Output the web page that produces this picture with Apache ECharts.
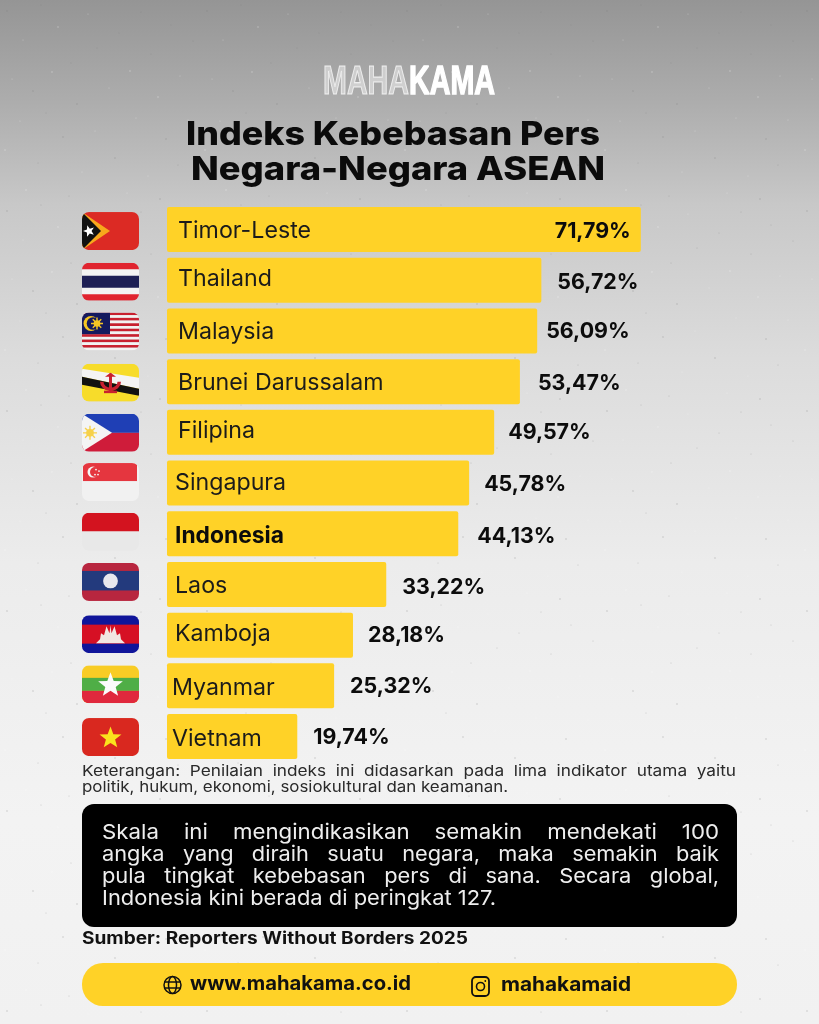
<!DOCTYPE html>
<html><head><meta charset="utf-8">
<script src="https://cdn.jsdelivr.net/npm/echarts@6/dist/echarts.min.js"></script>
<style>html,body{margin:0;padding:0;background:#eee}#c{width:819px;height:1024px}</style>
</head><body><div id="c"></div>
<script>
// ---- data ----
const countries = ['Timor-Leste','Thailand','Malaysia','Brunei Darussalam','Filipina','Singapura','Indonesia','Laos','Kamboja','Myanmar','Vietnam'];
const values = [71.79,56.72,56.09,53.47,49.57,45.78,44.13,33.22,28.18,25.32,19.74];
const flagKeys = ['tl','th','my','bn','ph','sg','id','la','kh','mm','vn'];
const titleLines = ['Indeks Kebebasan Pers','Negara-Negara ASEAN'];
const noteLines = ['Keterangan:  Penilaian  indeks  ini  didasarkan  pada  lima  indikator  utama  yaitu','politik, hukum, ekonomi, sosiokultural dan keamanan.'];
const boxLines = ['Skala    ini    mengindikasikan    semakin    mendekati    100','angka   yang   diraih   suatu   negara,   maka   semakin   baik','pula   tingkat   kebebasan   pers   di   sana.   Secara   global,','Indonesia kini berada di peringkat 127.'];
const sourceText = 'Sumber: Reporters Without Borders 2025';
const footerSite = 'www.mahakama.co.id';
const footerIg = 'mahakamaid';

// ---- layout / style tweaks (not data) ----
const FONT = 'Inter, "Noto Sans", sans-serif';
const LOGO = '"Liberation Sans", sans-serif';
const YELLOW = '#FFD227';
const nameNudgeX = [11,11,11,11,11,8,8,8,8,5,5];
const nameNudgeY = [1,-1,1,1,-1,0,2,2,-1,2,2];
const valueGap = [10,16,9,18,14,15,19,16,15,16,16];
const valueNudgeY = [2,2,1,2,0,2,3,3,0,1,1];
const flagNudge = [1.5,1.5,0.5,1,0.5,-1,-2,-2.5,-1,-1.5,0.5];

function star(cx,cy,r,fill,rot){
  let p='';
  for(let i=0;i<10;i++){
    const a=(rot||0)+(-90+i*36)*Math.PI/180, q=i%2?r*0.42:r;
    p+=(cx+q*Math.cos(a)).toFixed(2)+','+(cy+q*Math.sin(a)).toFixed(2)+' ';
  }
  return `<polygon points="${p}" fill="${fill}"/>`;
}
function sun(cx,cy,r,fill){
  let s=`<circle cx="${cx}" cy="${cy}" r="${r*0.55}" fill="${fill}"/>`;
  for(let i=0;i<8;i++){
    const a=i*45*Math.PI/180;
    s+=`<line x1="${cx}" y1="${cy}" x2="${(cx+r*Math.cos(a)).toFixed(2)}" y2="${(cy+r*Math.sin(a)).toFixed(2)}" stroke="${fill}" stroke-width="1.4"/>`;
  }
  return s;
}
const W=57,H=38;
let myStripes='';
for(let i=0;i<14;i++){ myStripes+=`<rect x="0" y="${(i*H/14).toFixed(2)}" width="${W}" height="${(H/14).toFixed(2)}" fill="${i%2?'#f2f2f2':'#c8202f'}"/>`; }
const flagBodies = {
  tl:`<rect width="57" height="38" fill="#dc2a24"/><polygon points="0,0 28,19 0,38" fill="#f7a81c"/><polygon points="0,0 19,19 0,38" fill="#111"/>`+star(7,19,6,'#fff',-0.3),
  th:`<rect width="57" height="38" fill="#e0242f"/><rect y="6.5" width="57" height="25" fill="#f3f3f3"/><rect y="13" width="57" height="12" fill="#1d1f55"/>`,
  my:myStripes+`<rect width="28" height="21.7" fill="#141a5e"/><circle cx="9" cy="11" r="7.5" fill="#f6c624"/><circle cx="11" cy="11" r="6.3" fill="#141a5e"/>`+sun(15,11,6,'#f6c624'),
  bn:`<rect width="57" height="38" fill="#f7dc2a"/><polygon points="0,5 57,14 57,25 0,13" fill="#f4f4f4"/><polygon points="0,13 57,25 57,32 0,21" fill="#111"/><path d="M18 18 a10.5 9.5 0 0 0 21 0 l-3.5 0 a7 6 0 0 1 -14 0z" fill="#c8202f"/><rect x="27" y="10" width="3" height="18" fill="#c8202f"/><polygon points="23,13 34,13 28.5,9" fill="#c8202f"/><rect x="22" y="27" width="13" height="2.5" fill="#c8202f"/>`,
  ph:`<rect width="57" height="19" fill="#1f3fb5"/><rect y="19" width="57" height="19" fill="#cf1c3a"/><polygon points="0,0 30,19 0,38" fill="#f4f4f4"/>`+sun(8,19,7,'#f6d14a'),
  sg:`<rect width="57" height="38" fill="#f1f1f1"/><rect x="1" y="0" width="54" height="18" fill="#e5363f"/><circle cx="11" cy="9" r="5.5" fill="#f5f5f5"/><circle cx="13" cy="9" r="5" fill="#e5363f"/><circle cx="14" cy="6.5" r=".9" fill="#f5f5f5"/><circle cx="17" cy="8" r=".9" fill="#f5f5f5"/><circle cx="16" cy="11.5" r=".9" fill="#f5f5f5"/><circle cx="13" cy="11.5" r=".9" fill="#f5f5f5"/>`,
  id:`<rect width="57" height="38" fill="#e8e8e8"/><rect width="57" height="18.5" fill="#d3131f"/>`,
  la:`<rect width="57" height="38" fill="#b8263f"/><rect y="8" width="57" height="19.5" fill="#233a7d"/><circle cx="28.5" cy="18" r="7.4" fill="#e8e8ee"/>`,
  kh:`<rect width="57" height="38" fill="#10159a"/><rect y="9.5" width="57" height="19" fill="#d61024"/><polygon points="14,28 43,28 39,24 38,18 35,20 32.5,11 29.5,18 28.5,10 27.5,18 24.5,11 22,20 19,18 18,24" fill="#f1e6e2"/>`,
  mm:`<rect width="57" height="38" fill="#f8cc25"/><rect y="12.5" width="57" height="13" fill="#4fae46"/><rect y="25.5" width="57" height="12.5" fill="#e0283d"/>`+star(28.5,20,13,'#fbfbfb'),
  vn:`<rect width="57" height="38" fill="#d9281f"/>`+star(28.5,20,11.5,'#fbe21d')
};
function flagUri(k){
  const svg=`<svg xmlns="http://www.w3.org/2000/svg" width="228" height="152" viewBox="0 0 57 38"><defs><clipPath id="r"><rect width="57" height="38" rx="7" ry="7"/></clipPath></defs><g clip-path="url(#r)">${flagBodies[k]}</g></svg>`;
  return 'data:image/svg+xml;charset=utf-8,'+encodeURIComponent(svg);
}

// subtle paper speckle tile, decorative only
let dots='';
const sp=[[7,11],[23,40],[41,5],[58,27],[71,63],[12,79],[33,91],[88,14],[97,48],[52,72],[119,33],[109,88],[77,104],[20,121],[46,113],[130,71],[141,12],[95,131],[63,137],[136,118],[151,54],[158,97],[171,25],[180,76],[166,139],[188,120],[193,41],[5,150],[38,163],[82,172],[115,158],[148,176],[178,165],[26,190],[69,196],[127,193],[160,199]];
sp.forEach((d,i)=>{dots+=`<circle cx="${d[0]}" cy="${d[1]}" r="${i%3?0.5:0.7}" fill="${i%2?'#fff':'#7a7a7a'}" opacity="${i%2?0.4:0.4}"/>`;});
const tile='data:image/svg+xml;charset=utf-8,'+encodeURIComponent(`<svg xmlns="http://www.w3.org/2000/svg" width="200" height="200">${dots}</svg>`);

const chart = echarts.init(document.getElementById('c'),null,{renderer:'canvas'});
const fmt = v => v.toFixed(2).replace('.',',')+'%';
const GRID_LEFT=167, PX_PER_UNIT=6.6, AXIS_MAX=90, GRID_TOP=204.2, GRID_H=557.7;

chart.setOption({
  animation:false,
  backgroundColor:'transparent',
  grid:{left:GRID_LEFT,top:GRID_TOP,width:PX_PER_UNIT*AXIS_MAX,height:GRID_H},
  xAxis:{type:'value',min:0,max:AXIS_MAX,show:false},
  yAxis:{type:'category',data:countries,inverse:true,show:false},
  series:[
    {type:'bar',name:'Indeks',z:3,barWidth:45,barGap:'-100%',
     itemStyle:{color:YELLOW,borderRadius:2},
     data:values.map((v,i)=>({value:v,label:{
        show:true,position:'insideLeft',offset:[nameNudgeX[i]-5,nameNudgeY[i]],distance:5,
        formatter:countries[i],color:i===6?'#0c0c0c':'#1b1b1b',fontFamily:FONT,fontSize:i===6?22.8:23.2,
        fontWeight:i===6?700:400}}))},
    {type:'bar',name:'Label',z:4,barWidth:45,barGap:'-100%',
     itemStyle:{color:'transparent'},
     data:values.map((v,i)=>({value:v,label:{
        show:true,position:i===0?'insideRight':'right',distance:valueGap[i],
        formatter:fmt(v),color:'#0c0c0c',fontFamily:FONT,fontSize:21.4,fontWeight:700,offset:[0,valueNudgeY[i]]}}))}
  ]
});

const measureCtx=document.createElement('canvas').getContext('2d');
// text box stretched horizontally to the width it spans in the reference
function fitText(x,y,text,width,o){
  const st=Object.assign({fontFamily:FONT,fontWeight:400,fontSize:14,fill:'#111'},o||{});
  measureCtx.font=`${st.fontWeight} ${st.fontSize}px ${st.fontFamily}`;
  const sx=width/measureCtx.measureText(text).width;
  return {type:'text',x,y,scaleX:sx,z:10,style:Object.assign({text,verticalAlign:'middle',align:'left'},st)};
}
const gradient = new echarts.graphic.LinearGradient(0,0,0,1,[
  {offset:0,color:'#959595'},{offset:.1,color:'#adadad'},{offset:.2,color:'#c8c8c8'},
  {offset:.35,color:'#dcdcdc'},{offset:.55,color:'#ececec'},{offset:.8,color:'#f3f3f3'},{offset:1,color:'#f1f1f1'}]);

const els=[];
els.push({type:'rect',silent:true,z:-10,shape:{x:0,y:0,width:819,height:1024},style:{fill:gradient}});
els.push({type:'rect',silent:true,z:-9,shape:{x:0,y:0,width:819,height:1024},style:{fill:{image:tile,repeat:'repeat'}}});
// logo
els.push(fitText(323,82.5,'MAHA',86,{fontFamily:LOGO,fontWeight:700,fontSize:41,fill:'rgba(255,255,255,0.45)',stroke:'#e8e8e8',lineWidth:1.2}));
els.push(fitText(409,82.5,'KAMA',86,{fontFamily:LOGO,fontWeight:700,fontSize:41,fill:'#fff',stroke:'#fff',lineWidth:1.5}));
// title
els.push(fitText(186,135.5,titleLines[0],414,{fontSize:33,fontWeight:800,fill:'#0b0b0b'}));
els.push(fitText(191,170,titleLines[1],414,{fontSize:33,fontWeight:800,fill:'#0b0b0b'}));
// flags
flagKeys.forEach((k,i)=>{
  const cy=chart.convertToPixel({yAxisIndex:0},countries[i])+flagNudge[i];
  els.push({type:'image',z:5,style:{image:flagUri(k),x:82,y:cy-19,width:57,height:38}});
});
// note
els.push(fitText(82,771.5,noteLines[0],654,{fontSize:15,fill:'#2a2a2a'}));
els.push(fitText(82,787.5,noteLines[1],426,{fontSize:15,fill:'#2a2a2a'}));
// black box
els.push({type:'rect',z:8,shape:{x:82,y:804,width:655,height:123,r:12},style:{fill:'#000'}});
const boxW=[617,617,617,394];
[833,855,877,899].forEach((y,i)=>els.push(fitText(102,y,boxLines[i],boxW[i],{fontSize:20.5,fill:'#eeeeee'})));
// source
els.push(fitText(82,938.5,sourceText,386,{fontSize:17,fontWeight:700,fill:'#111'}));
// footer
els.push({type:'rect',z:8,shape:{x:82,y:963,width:655,height:43,r:21},style:{fill:YELLOW}});
els.push(fitText(190,984,footerSite,221,{fontSize:20,fontWeight:700}));
els.push(fitText(501,985,footerIg,130,{fontSize:20,fontWeight:700}));
// globe icon
const st={fill:'none',stroke:'#111',lineWidth:1.5};
els.push({type:'circle',z:10,shape:{cx:172.5,cy:985,r:8.5},style:st});
els.push({type:'ellipse',z:10,shape:{cx:172.5,cy:985,rx:4,ry:8.5},style:st});
els.push({type:'line',z:10,shape:{x1:164,y1:982,x2:181,y2:982},style:st});
els.push({type:'line',z:10,shape:{x1:164,y1:988,x2:181,y2:988},style:st});
// instagram icon
els.push({type:'rect',z:10,shape:{x:472,y:977,width:17,height:19,r:4},style:Object.assign({},st,{lineWidth:1.8})});
els.push({type:'circle',z:10,shape:{cx:480.5,cy:986.5,r:4},style:Object.assign({},st,{lineWidth:1.6})});
els.push({type:'circle',z:10,shape:{cx:485.3,cy:981,r:0.9},style:{fill:'#111'}});
chart.setOption({graphic:{elements:els}});
</script></body></html>
